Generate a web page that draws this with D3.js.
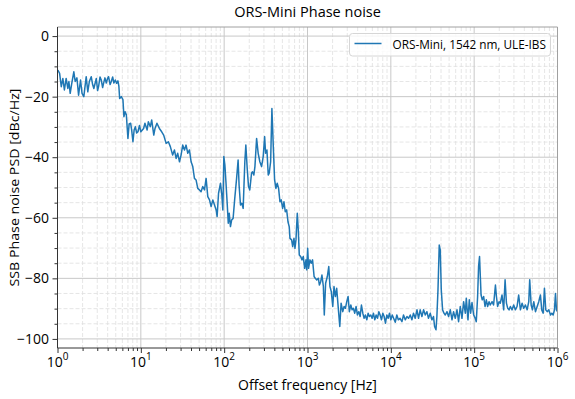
<!DOCTYPE html>
<html>
<head>
<meta charset="utf-8">
<script src="https://cdn.jsdelivr.net/npm/d3@7"></script>
<style>
  body { margin: 0; background: #fff; }
  svg text { font-family: "Open Sans", "DejaVu Sans", sans-serif; fill: #000; }
</style>
</head>
<body>
<div id="chart"></div>
<script>
// offset frequency [Hz]
const freqHz = [
  1.01, 1.06, 1.11, 1.16, 1.21, 1.27, 1.33, 1.37, 1.42, 1.49, 1.57, 1.63, 1.71, 1.79, 1.89, 1.97,
  2.07, 2.21, 2.31, 2.41, 2.54, 2.64, 2.73, 2.92, 3.03, 3.11, 3.24, 3.35, 3.48, 3.57, 3.71, 3.85,
  3.99, 4.10, 4.28, 4.42, 4.59, 4.75, 4.94, 5.12, 5.31, 5.45, 5.57, 5.83, 6.10, 6.27, 6.48, 6.70,
  7.00, 7.24, 7.55, 7.76, 8.04, 8.31, 8.59, 8.91, 9.24, 9.63,
  10.0, 10.8, 11.2, 11.9, 12.3, 13.0, 13.5, 14.3, 14.8, 15.6, 16.7, 17.8, 18.8, 20.1, 21.4, 22.6,
  24.1, 25.3, 26.5, 27.7, 29.1, 30.4, 31.8, 33.4, 34.9, 36.6, 38.3, 40.1, 42.0, 44.0, 46.0, 48.2,
  50.5, 52.8, 55.4, 58.1, 60.7, 63.6, 66.7, 69.7, 73.1, 76.6, 80.1, 82.3, 85.6, 90.4, 93.7, 96.4,
  99.1, 102, 105, 109, 112, 115, 119, 123, 128, 134, 141, 147, 151, 157, 163, 169, 177, 182, 189,
  196, 203, 213, 219, 227, 234, 245, 256, 268, 281, 294, 306, 314, 326, 338, 347, 361, 374, 388,
  403, 418, 433, 450, 467, 484, 503, 522, 541, 562, 583, 604, 616, 645, 664, 688, 707, 727, 754,
  775, 797, 828, 859, 890, 925, 959, 978,
  1005, 1030, 1070, 1110, 1150, 1200, 1240, 1290, 1350, 1390, 1440, 1490, 1550, 1590, 1650, 1730,
  1800, 1860, 1930, 2010, 2080, 2160, 2240, 2350, 2440, 2530, 2650, 2750, 2850, 2960, 3070, 3180,
  3310, 3430, 3550, 3690, 3830, 3970, 4130, 4280, 4440, 4610, 4780, 4950, 5150, 5340, 5530, 5750,
  5960, 6180, 6420, 6660, 6910, 7180, 7440, 7720, 8020, 8310, 8620, 8960, 9290, 9630,
  10000, 10400, 10800, 11300, 11800, 12300, 12900, 13600, 14200, 14900, 15600, 16300, 17100, 17900,
  18700, 19600, 20600, 21500, 22500, 23600, 24700, 25900, 27100, 28300, 29700, 31100, 32500, 33500,
  34800, 35700, 36800, 38100, 39200, 40300, 41800, 43400, 45000, 47200, 49300, 51700, 54200, 56600,
  59300, 62200, 65000, 68100, 71400, 74700, 78300, 80500, 84300, 87400, 90700, 94200, 98500,
  103000, 106000, 110000, 113000, 116000, 121000, 125000, 130000, 135000, 140000, 145000, 151000,
  156000, 164000, 171000, 180000, 185000, 191000, 199000, 206000, 216000, 226000, 235000, 244000,
  253000, 262000, 272000, 285000, 298000, 312000, 327000, 342000, 359000, 376000, 393000, 412000,
  432000, 452000, 464000, 483000, 500000, 519000, 544000, 570000, 596000, 624000, 647000, 673000,
  697000, 723000, 752000, 786000, 824000, 854000, 887000, 920000, 946000, 972000, 1000000
];

// SSB phase noise [dBc/Hz]
const psdDb = [
  -11.2, -12.3, -16.7, -14, -17.8, -14, -17.3, -15, -18.9, -15.3, -11.8, -15, -13.8, -19.5, -14.5, -18.9,
  -20, -13.4, -18.4, -15, -13.4, -16, -17.3, -14, -18, -16.7, -13.5, -14.5, -17, -15.6, -13.8, -15.5,
  -14, -13.4, -16, -15, -13.5, -15.5, -14.5, -15.6, -14.8, -16.5, -20.6, -20, -21, -26.6, -25, -26,
  -33.8, -29, -28.8, -31, -34.9, -31, -29.9, -32, -31.6, -29.5,
  -31.6, -30.5, -28.8, -31, -28.3, -29.9, -27.7, -32.7, -30.5, -28.8, -30.5, -31.6, -32.7, -35.4, -34.9, -36.5,
  -39.3, -37.6, -40.4, -38.7, -41.5, -39.3, -36, -37.6, -36, -38.7, -37.6, -41.5, -43.1, -47, -47.5, -50.3,
  -50.8, -51.4, -49.7, -50.8, -47, -53, -54.1, -56.3, -54.1, -55.8, -57.4, -59.6, -51.9, -48.6, -52.5, -57.4,
  -39.8, -42.6, -48.1, -55.8, -61.8, -58.5, -62.9, -60.7, -60.2, -53.6, -47, -40.9, -49.2, -55.8, -55.2, -56.9, -41.5, -36, -43.7,
  -49.7, -50.8, -45.3, -44.8, -45.9, -43.1, -33.8, -38.7, -41.5, -43.1, -39.8, -33.2, -38.7, -37.6, -45.9, -45.3, -41.5, -23.9, -36,
  -47.5, -50.3, -48.6, -50.3, -54.7, -54.1, -56.9, -54.7, -58, -57.4, -61.3, -63, -66.8, -67.3, -69.5, -66.8, -70.1, -67.3, -58.5,
  -64, -72.3, -72.8, -73.9, -72.8, -76.7, -73.9, -77.2,
  -70.1, -76.7, -73.9, -75, -73.9, -79.4, -80, -80.5, -80, -82.2, -81.1, -78.9, -82.7, -92.1, -81.6, -79.4,
  -76.1, -82.7, -84.4, -89.3, -82.7, -86, -83.3, -90.4, -95.9, -88.2, -91, -89.3, -89.9, -87.7, -86, -91,
  -88.8, -90.4, -89.9, -91.5, -89.3, -92.1, -91, -92.6, -88.8, -91.5, -93.2, -92.1, -93.7, -91.5, -92.6, -92.1,
  -93.2, -91.5, -93.7, -92.1, -93.2, -91, -92.1, -93.7, -91.5, -92.6, -94.8, -92.1, -93.2, -91.5,
  -93.7, -92.1, -93.2, -94.5, -92.1, -93.7, -93.2, -94.3, -92.1, -93.7, -92.6, -93.2, -92.1, -93.7,
  -91.5, -93.2, -90.4, -93.2, -90.4, -92.6, -90.4, -92.1, -91, -93.2, -91.5, -93.7, -92.6, -95.9,
  -97, -92.6, -83.8, -69, -70.6, -83.8, -90.4, -91.5, -92.1, -91, -92.6, -90.4, -93.7, -91,
  -93.2, -90.4, -94.3, -89.3, -93.2, -87.7, -91.5, -86.6, -93.7, -87.1, -91.5, -88, -92,
  -93.2, -94.3, -86, -76, -72.8, -85.5, -87.1, -86, -89.3, -87.1, -89.3, -87.7,
  -88.8, -87.7, -88.8, -82.2, -86, -89.3, -87.7, -88.2, -85.5, -90.4, -80.5, -88.2,
  -89.9, -90.4, -89.3, -90.4, -88.8, -90.4, -89.3, -85.5, -90.4, -88.2, -89.9, -88.8,
  -90.4, -87.7, -80.5, -88.8, -90.4, -87.7, -91, -89.3, -87.7, -85.5, -90.4, -91.5,
  -83.3, -90.4, -91, -90.4, -92.1, -91.5, -92.1, -90.4, -85, -90.4, -91
];

const xTickExp = [0, 1, 2, 3, 4, 5, 6];
const yTicks = [0, -20, -40, -60, -80, -100];
const seriesName = "ORS-Mini, 1542 nm, ULE-IBS";
const titleText = "ORS-Mini Phase noise";
const xLabel = "Offset frequency [Hz]";
const yLabel = "SSB Phase noise PSD [dBc/Hz]";

function drawChart() {
    const width = 575;
    const height = 399;
    const margin = { top: 27, right: 17.5, bottom: 51, left: 57.5 };
    const iw = width - margin.left - margin.right;
    const ih = height - margin.top - margin.bottom;

    const data = freqHz.map((f, i) => ({ f: f, v: psdDb[i] }));

    const x = d3.scaleLog().domain([1, 1e6]).range([0, iw]);
    const y = d3.scaleLinear().domain([-103, 3]).range([ih, 0]);

    const svg = d3.select("#chart")
        .append("svg")
        .attr("width", width)
        .attr("height", height);

    const g = svg.append("g")
        .attr("transform", `translate(${margin.left},${margin.top})`);

    // minor ticks: 2..9 in every decade, every 5 dB
    const xMajor = xTickExp.map(e => Math.pow(10, e));
    const xMinor = [];
    xTickExp.slice(0, -1).forEach(e => {
        for (let k = 2; k <= 9; k++) xMinor.push(k * Math.pow(10, e));
    });
    const yMinor = d3.range(-100, 1, 5).filter(v => v % 20 !== 0);

    // grid
    const grid = g.append("g");
    grid.selectAll(".xminor").data(xMinor).join("line")
        .attr("x1", d => x(d)).attr("x2", d => x(d))
        .attr("y1", 0).attr("y2", ih)
        .attr("stroke", "#e0e0e0").attr("stroke-width", 0.8)
        .attr("stroke-dasharray", "4,2");
    grid.selectAll(".yminor").data(yMinor).join("line")
        .attr("x1", 0).attr("x2", iw)
        .attr("y1", d => y(d)).attr("y2", d => y(d))
        .attr("stroke", "#e0e0e0").attr("stroke-width", 0.8)
        .attr("stroke-dasharray", "4,2");
    grid.selectAll(".xmajor").data(xMajor).join("line")
        .attr("x1", d => x(d)).attr("x2", d => x(d))
        .attr("y1", 0).attr("y2", ih)
        .attr("stroke", "#c8c8c8").attr("stroke-width", 1);
    grid.selectAll(".ymajor").data(yTicks).join("line")
        .attr("x1", 0).attr("x2", iw)
        .attr("y1", d => y(d)).attr("y2", d => y(d))
        .attr("stroke", "#c8c8c8").attr("stroke-width", 1);

    // the trace
    const line = d3.line()
        .x(d => x(d.f))
        .y(d => y(d.v));

    g.append("path")
        .datum(data)
        .attr("fill", "none")
        .attr("stroke", "#1f77b4")
        .attr("stroke-width", 1.5)
        .attr("stroke-linejoin", "round")
        .attr("d", line);

    // spines
    g.append("line").attr("x1", 0).attr("x2", iw).attr("y1", 0).attr("y2", 0)
        .attr("stroke", "#a0a0a0").attr("stroke-width", 1);
    g.append("line").attr("x1", iw).attr("x2", iw).attr("y1", 0).attr("y2", ih)
        .attr("stroke", "#a0a0a0").attr("stroke-width", 1);

    // axes (ticks only, labels drawn below)
    const xAxis = g.append("g").attr("transform", `translate(0,${ih})`)
        .call(d3.axisBottom(x).tickValues(xMajor).tickSize(5).tickFormat(""));
    const xAxisMinor = g.append("g").attr("transform", `translate(0,${ih})`)
        .call(d3.axisBottom(x).tickValues(xMinor).tickSize(3).tickFormat(""));
    const yAxis = g.append("g")
        .call(d3.axisLeft(y).tickValues(yTicks).tickSize(5).tickFormat(""));
    const yAxisMinor = g.append("g")
        .call(d3.axisLeft(y).tickValues(yMinor).tickSize(3).tickFormat(""));
    [xAxis, xAxisMinor, yAxis, yAxisMinor].forEach(a => a.select(".domain").remove());
    g.append("line").attr("x1", 0).attr("x2", 0).attr("y1", 0).attr("y2", ih)
        .attr("stroke", "#333").attr("stroke-width", 1);
    g.append("line").attr("x1", 0).attr("x2", iw).attr("y1", ih).attr("y2", ih)
        .attr("stroke", "#333").attr("stroke-width", 1);
    g.selectAll(".tick line").attr("stroke", "#333");

    // x tick labels 10^n
    const xl = g.append("g").selectAll("text").data(xTickExp).join("text")
        .attr("x", d => x(Math.pow(10, d)))
        .attr("y", ih + 18.5)
        .attr("text-anchor", "middle")
        .attr("font-size", 14);
    xl.append("tspan").text("10");
    xl.append("tspan").attr("dy", -7).attr("font-size", 10).text(d => d);

    // y tick labels
    g.append("g").selectAll("text").data(yTicks).join("text")
        .attr("x", -8.5)
        .attr("y", d => y(d))
        .attr("dy", "0.35em")
        .attr("text-anchor", "end")
        .attr("font-size", 14)
        .text(d => d3.format("")(d).replace("-", "\u2212"));

    // title and axis labels
    svg.append("text")
        .attr("x", margin.left + iw / 2).attr("y", 17)
        .attr("text-anchor", "middle").attr("font-size", 14.5)
        .text(titleText);
    svg.append("text")
        .attr("x", margin.left + iw / 2).attr("y", 390)
        .attr("text-anchor", "middle").attr("font-size", 14)
        .text(xLabel);
    svg.append("text")
        .attr("transform", `translate(18.5,${margin.top + ih / 2}) rotate(-90)`)
        .attr("text-anchor", "middle").attr("font-size", 13.5)
        .attr("textLength", 198).attr("lengthAdjust", "spacingAndGlyphs")
        .text(yLabel);

    // legend
    const lg = svg.append("g").attr("transform", "translate(349.5,33.5)");
    lg.append("rect")
        .attr("width", 201).attr("height", 22.5).attr("rx", 3)
        .attr("fill", "#fff").attr("fill-opacity", 0.8)
        .attr("stroke", "#d6d6d6").attr("stroke-width", 1);
    lg.append("line")
        .attr("x1", 5).attr("x2", 32).attr("y1", 10).attr("y2", 10)
        .attr("stroke", "#1f77b4").attr("stroke-width", 1.5);
    lg.append("text")
        .attr("x", 43).attr("y", 15.5)
        .attr("font-size", 11.8)
        .text(seriesName);

    return svg.node();
}

drawChart();
</script>
</body>
</html>
